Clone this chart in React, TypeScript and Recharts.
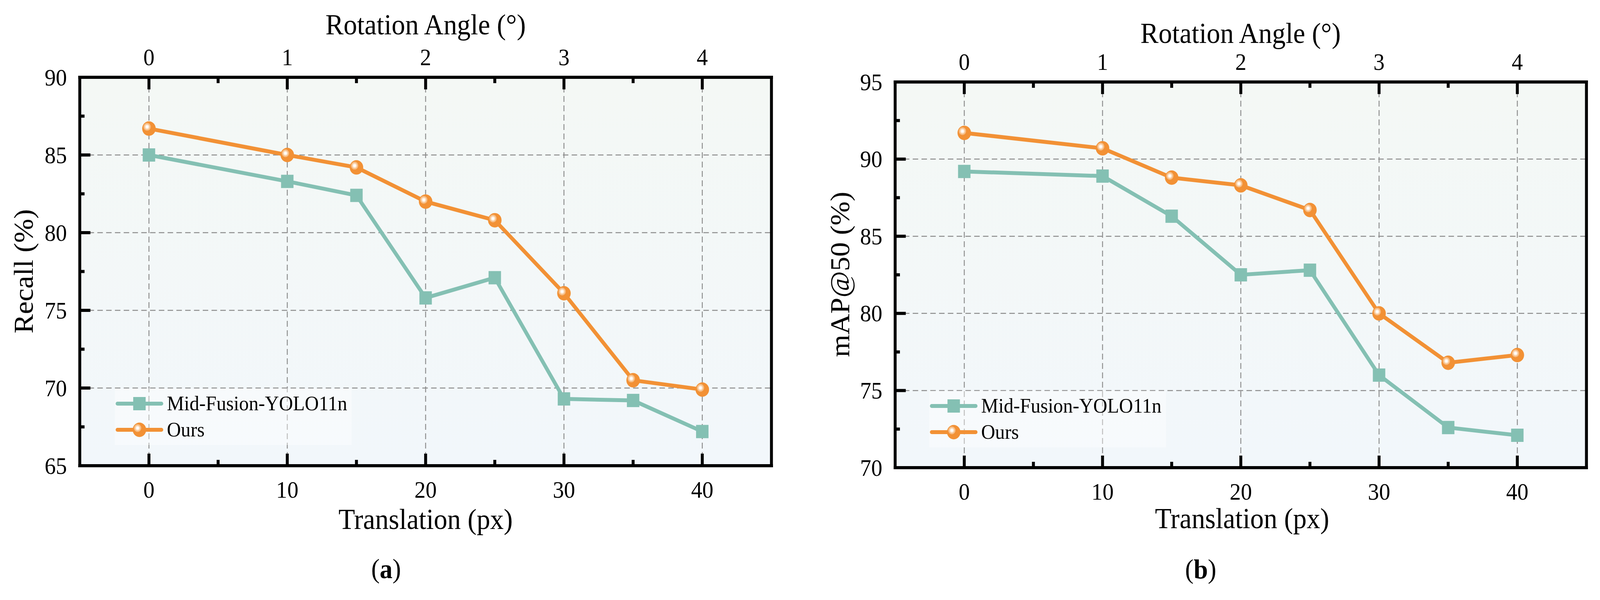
import React from 'react';
import { LineChart, Line, XAxis, YAxis, CartesianGrid, Legend } from 'recharts';

// translation (px) on the bottom axis
const translation = [0, 10, 15, 20, 25, 30, 35, 40];

// (a) Recall (%)
const recallMid = [85.0, 83.3, 82.4, 75.8, 77.1, 69.3, 69.2, 67.2];
const recallOurs = [86.7, 85.0, 84.2, 82.0, 80.8, 76.1, 70.5, 69.9];

// (b) mAP@50 (%)
const mapMid = [89.2, 88.9, 86.3, 82.5, 82.8, 76.0, 72.6, 72.1];
const mapOurs = [91.7, 90.7, 88.8, 88.3, 86.7, 80.0, 76.8, 77.3];

const seriesNames = ['Mid-Fusion-YOLO11n', 'Ours'];

// axis ticks
const xTicks = [0, 5, 10, 15, 20, 25, 30, 35, 40];
const rotationAngle = ['0', '1', '2', '3', '4'];
const rotationAt = [0, 10, 20, 30, 40];
const recallTicks = [65, 67.5, 70, 72.5, 75, 77.5, 80, 82.5, 85, 87.5, 90];
const mapTicks = [70, 72.5, 75, 77.5, 80, 82.5, 85, 87.5, 90, 92.5, 95];

const FONT = '"Liberation Serif", "Times New Roman", serif';
const TEAL = '#84c0b3';
const ORANGE = '#f29135';
const TICK_FS = 61;
const TITLE_FS = 74;

const FIG_W = 4372;
const FIG_H = 1537;
const W = 2186;
const H = 1537;

const SquareDot = (props: any) => {
  const { cx, cy, index } = props;
  if (cx == null || cy == null) return <g key={'s' + index} />;
  return <rect key={'s' + index} x={cx - 17} y={cy - 17} width={34} height={34} fill={TEAL} />;
};

const CircleDot = (props: any) => {
  const { cx, cy, index } = props;
  if (cx == null || cy == null) return <g key={'c' + index} />;
  return (
    <g key={'c' + index}>
      <circle cx={cx} cy={cy} r={18.5} fill={ORANGE} />
      <circle cx={cx - 5} cy={cy - 4.5} r={10} fill="#f7bd84" />
      <circle cx={cx - 5} cy={cy - 4.5} r={6.5} fill="#fde3c8" />
      <circle cx={cx - 5} cy={cy - 4.5} r={3.5} fill="#ffffff" />
    </g>
  );
};

const BottomTick = (props: any) => {
  const { x, y, payload } = props;
  const major = payload.value % 10 === 0;
  return (
    <g>
      <line x1={x} x2={x} y1={y} y2={y - (major ? 31 : 15)} stroke="#000" strokeWidth={8} />
      {major && (
        <text x={x} y={y + 61} textAnchor="middle" dominantBaseline="central" fontSize={TICK_FS} fontFamily={FONT} fill="#000">
          {payload.value}
        </text>
      )}
    </g>
  );
};

const TopTick = (props: any) => {
  const { x, y, payload } = props;
  const idx = rotationAt.indexOf(payload.value);
  const major = idx >= 0;
  return (
    <g>
      <line x1={x} x2={x} y1={y} y2={y + (major ? 31 : 15)} stroke="#000" strokeWidth={8} />
      {major && (
        <text x={x} y={y - 52} textAnchor="middle" dominantBaseline="central" fontSize={TICK_FS} fontFamily={FONT} fill="#000">
          {rotationAngle[idx]}
        </text>
      )}
    </g>
  );
};

const LeftTick = (props: any) => {
  const { x, y, payload } = props;
  const major = payload.value % 5 === 0;
  return (
    <g>
      <line x1={x} x2={x + (major ? 29 : 13)} y1={y} y2={y} stroke="#000" strokeWidth={8} />
      {major && (
        <text x={x - 35} y={y} textAnchor="end" dominantBaseline="central" fontSize={TICK_FS} fontFamily={FONT} fill="#000">
          {payload.value}
        </text>
      )}
    </g>
  );
};

const LegendIcon = ({ type }: { type: string }) => (
  <svg width={140} height={44} style={{ display: 'block', flex: 'none' }}>
    <line x1={7} x2={127} y1={22} y2={22} stroke={type === 'square' ? TEAL : ORANGE} strokeWidth={10} strokeLinecap="round" />
    {type === 'square' ? <SquareDot cx={67} cy={22} index={0} /> : <CircleDot cx={67} cy={22} index={0} />}
  </svg>
);

const LegendBox = (props: any) => {
  const { payload } = props;
  return (
    <div
      style={{
        width: 647,
        height: 145,
        background: 'rgba(255,255,255,0.42)',
        paddingTop: 5,
        boxSizing: 'border-box',
        fontFamily: FONT,
      }}
    >
      {(payload || []).map((entry: any, i: number) => (
        <div key={i} style={{ display: 'flex', alignItems: 'center', height: 67 }}>
          <LegendIcon type={entry.type} />
          <span style={{ fontFamily: FONT, fontSize: 53, lineHeight: 1, color: '#000', marginLeft: 2 }}>{entry.value}</span>
        </div>
      ))}
    </div>
  );
};

type PanelProps = {
  left: number;
  plot: { left: number; right: number; top: number; bottom: number };
  yDomain: [number, number];
  yTicks: number[];
  gridY: number[];
  mid: number[];
  ours: number[];
  yLabel: React.ReactNode;
  legend: { left: number; top: number };
  titles: { rot: [number, number]; trans: [number, number]; ylab: [number, number]; cap: [number, number] };
  caption: string;
  gradId: string;
};

function Panel(p: PanelProps) {
  const data = translation.map((t, i) => ({ t, mid: p.mid[i], ours: p.ours[i] }));
  const axisLine = { stroke: '#000', strokeWidth: 8, strokeLinecap: 'square' as const };
  // axes are 1px thick boxes, so the margins are 1px smaller than the plot box
  return (
    <div style={{ position: 'absolute', left: p.left, top: 0, width: W, height: H }}>
      <LineChart
        width={W}
        height={H}
        data={data}
        margin={{ top: p.plot.top - 1, right: W - p.plot.right - 1, bottom: H - p.plot.bottom - 1, left: p.plot.left - 1 }}
      >
        <CartesianGrid
          xAxisId="bottom"
          yAxisId="left"
          fill={`url(#${p.gradId})`}
          stroke="#8c8c8c"
          strokeWidth={2.5}
          strokeDasharray="15 9"
          verticalValues={rotationAt}
          horizontalValues={p.gridY}
        />
        <XAxis
          xAxisId="bottom"
          dataKey="t"
          type="number"
          domain={[-5, 45]}
          ticks={xTicks}
          interval={0}
          height={1}
          tickSize={0}
          tickMargin={0}
          tickLine={false}
          tick={BottomTick}
          axisLine={axisLine}
        />
        <XAxis
          xAxisId="top"
          orientation="top"
          dataKey="t"
          type="number"
          domain={[-5, 45]}
          ticks={xTicks}
          interval={0}
          height={1}
          tickSize={0}
          tickMargin={0}
          tickLine={false}
          tick={TopTick}
          axisLine={axisLine}
        />
        <YAxis
          yAxisId="left"
          type="number"
          domain={p.yDomain}
          ticks={p.yTicks}
          interval={0}
          width={1}
          tickSize={0}
          tickMargin={0}
          tickLine={false}
          tick={LeftTick}
          axisLine={axisLine}
        />
        <YAxis
          yAxisId="right"
          orientation="right"
          type="number"
          domain={p.yDomain}
          ticks={p.yTicks}
          width={1}
          tickSize={0}
          tick={false}
          tickLine={false}
          axisLine={axisLine}
        />
        <Line
          xAxisId="bottom"
          yAxisId="left"
          type="linear"
          dataKey="mid"
          name={seriesNames[0]}
          stroke={TEAL}
          strokeWidth={10}
          dot={SquareDot}
          activeDot={false}
          legendType="square"
          isAnimationActive={false}
        />
        <Line
          xAxisId="bottom"
          yAxisId="left"
          type="linear"
          dataKey="ours"
          name={seriesNames[1]}
          stroke={ORANGE}
          strokeWidth={10}
          dot={CircleDot}
          activeDot={false}
          legendType="circle"
          isAnimationActive={false}
        />
        <Legend
          layout="vertical"
          align="center"
          verticalAlign="middle"
          content={LegendBox}
          wrapperStyle={{ left: p.legend.left, top: p.legend.top, width: 647, height: 145 }}
        />
      </LineChart>
      <svg width={W} height={H} style={{ position: 'absolute', left: 0, top: 0, pointerEvents: 'none' }}>
        <text x={p.titles.rot[0]} y={p.titles.rot[1]} textAnchor="middle" dominantBaseline="central" fontSize={TITLE_FS} fontFamily={FONT}>
          Rotation Angle (°)
        </text>
        <text x={p.titles.trans[0]} y={p.titles.trans[1]} textAnchor="middle" dominantBaseline="central" fontSize={TITLE_FS} fontFamily={FONT}>
          Translation (px)
        </text>
        <text
          x={p.titles.ylab[0]}
          y={p.titles.ylab[1]}
          textAnchor="middle"
          dominantBaseline="central"
          fontSize={TITLE_FS}
          fontFamily={FONT}
          transform={`rotate(-90 ${p.titles.ylab[0]} ${p.titles.ylab[1]})`}
        >
          {p.yLabel}
        </text>
        <text x={p.titles.cap[0]} y={p.titles.cap[1]} textAnchor="middle" dominantBaseline="central" fontSize={70} fontFamily={FONT}>
          (<tspan fontWeight="bold">{p.caption}</tspan>)
        </text>
      </svg>
    </div>
  );
}

export default function App() {
  // the figure is laid out at 4372x1537; fit it into whatever viewport we actually get
  const vw = typeof window !== 'undefined' ? window.innerWidth : FIG_W;
  const vh = typeof window !== 'undefined' ? window.innerHeight : FIG_H;
  const sx = vw / FIG_W;
  const sy = vh / FIG_H;

  return (
    <div style={{ position: 'absolute', left: 0, top: 0, width: vw, height: vh, overflow: 'hidden', background: '#fff' }}>
      <div
        style={{
          position: 'absolute',
          left: 0,
          top: 0,
          width: FIG_W,
          height: FIG_H,
          transform: `scale(${sx}, ${sy})`,
          transformOrigin: '0 0',
        }}
      >
        <svg width={0} height={0} style={{ position: 'absolute' }}>
          <defs>
            <linearGradient id="bgA" x1="0" y1="0" x2="0" y2="1">
              <stop offset="0" stopColor="#f4f8f5" />
              <stop offset="1" stopColor="#f2f7fb" />
            </linearGradient>
            <linearGradient id="bgB" x1="0" y1="0" x2="0" y2="1">
              <stop offset="0" stopColor="#f4f8f5" />
              <stop offset="1" stopColor="#f2f7fb" />
            </linearGradient>
          </defs>
        </svg>
        <Panel
          left={0}
          plot={{ left: 218, right: 2108, top: 198, bottom: 1193 }}
          yDomain={[65, 90]}
          yTicks={recallTicks}
          gridY={[70, 75, 80, 85]}
          mid={recallMid}
          ours={recallOurs}
          yLabel="Recall (%)"
          legend={{ left: 314, top: 995 }}
          titles={{ rot: [1163, 63], trans: [1163, 1330], ylab: [65, 695], cap: [1055, 1457] }}
          caption="a"
          gradId="bgA"
        />
        <Panel
          left={2186}
          plot={{ left: 260, right: 2149, top: 210, bottom: 1198 }}
          yDomain={[70, 95]}
          yTicks={mapTicks}
          gridY={[75, 80, 85, 90]}
          mid={mapMid}
          ours={mapOurs}
          yLabel={
            <>
              mAP<tspan fontStyle="italic">@</tspan>50 (%)
            </>
          }
          legend={{ left: 353, top: 1001 }}
          titles={{ rot: [1204, 85], trans: [1208, 1328], ylab: [110, 703], cap: [1095, 1458] }}
          caption="b"
          gradId="bgB"
        />
      </div>
    </div>
  );
}
